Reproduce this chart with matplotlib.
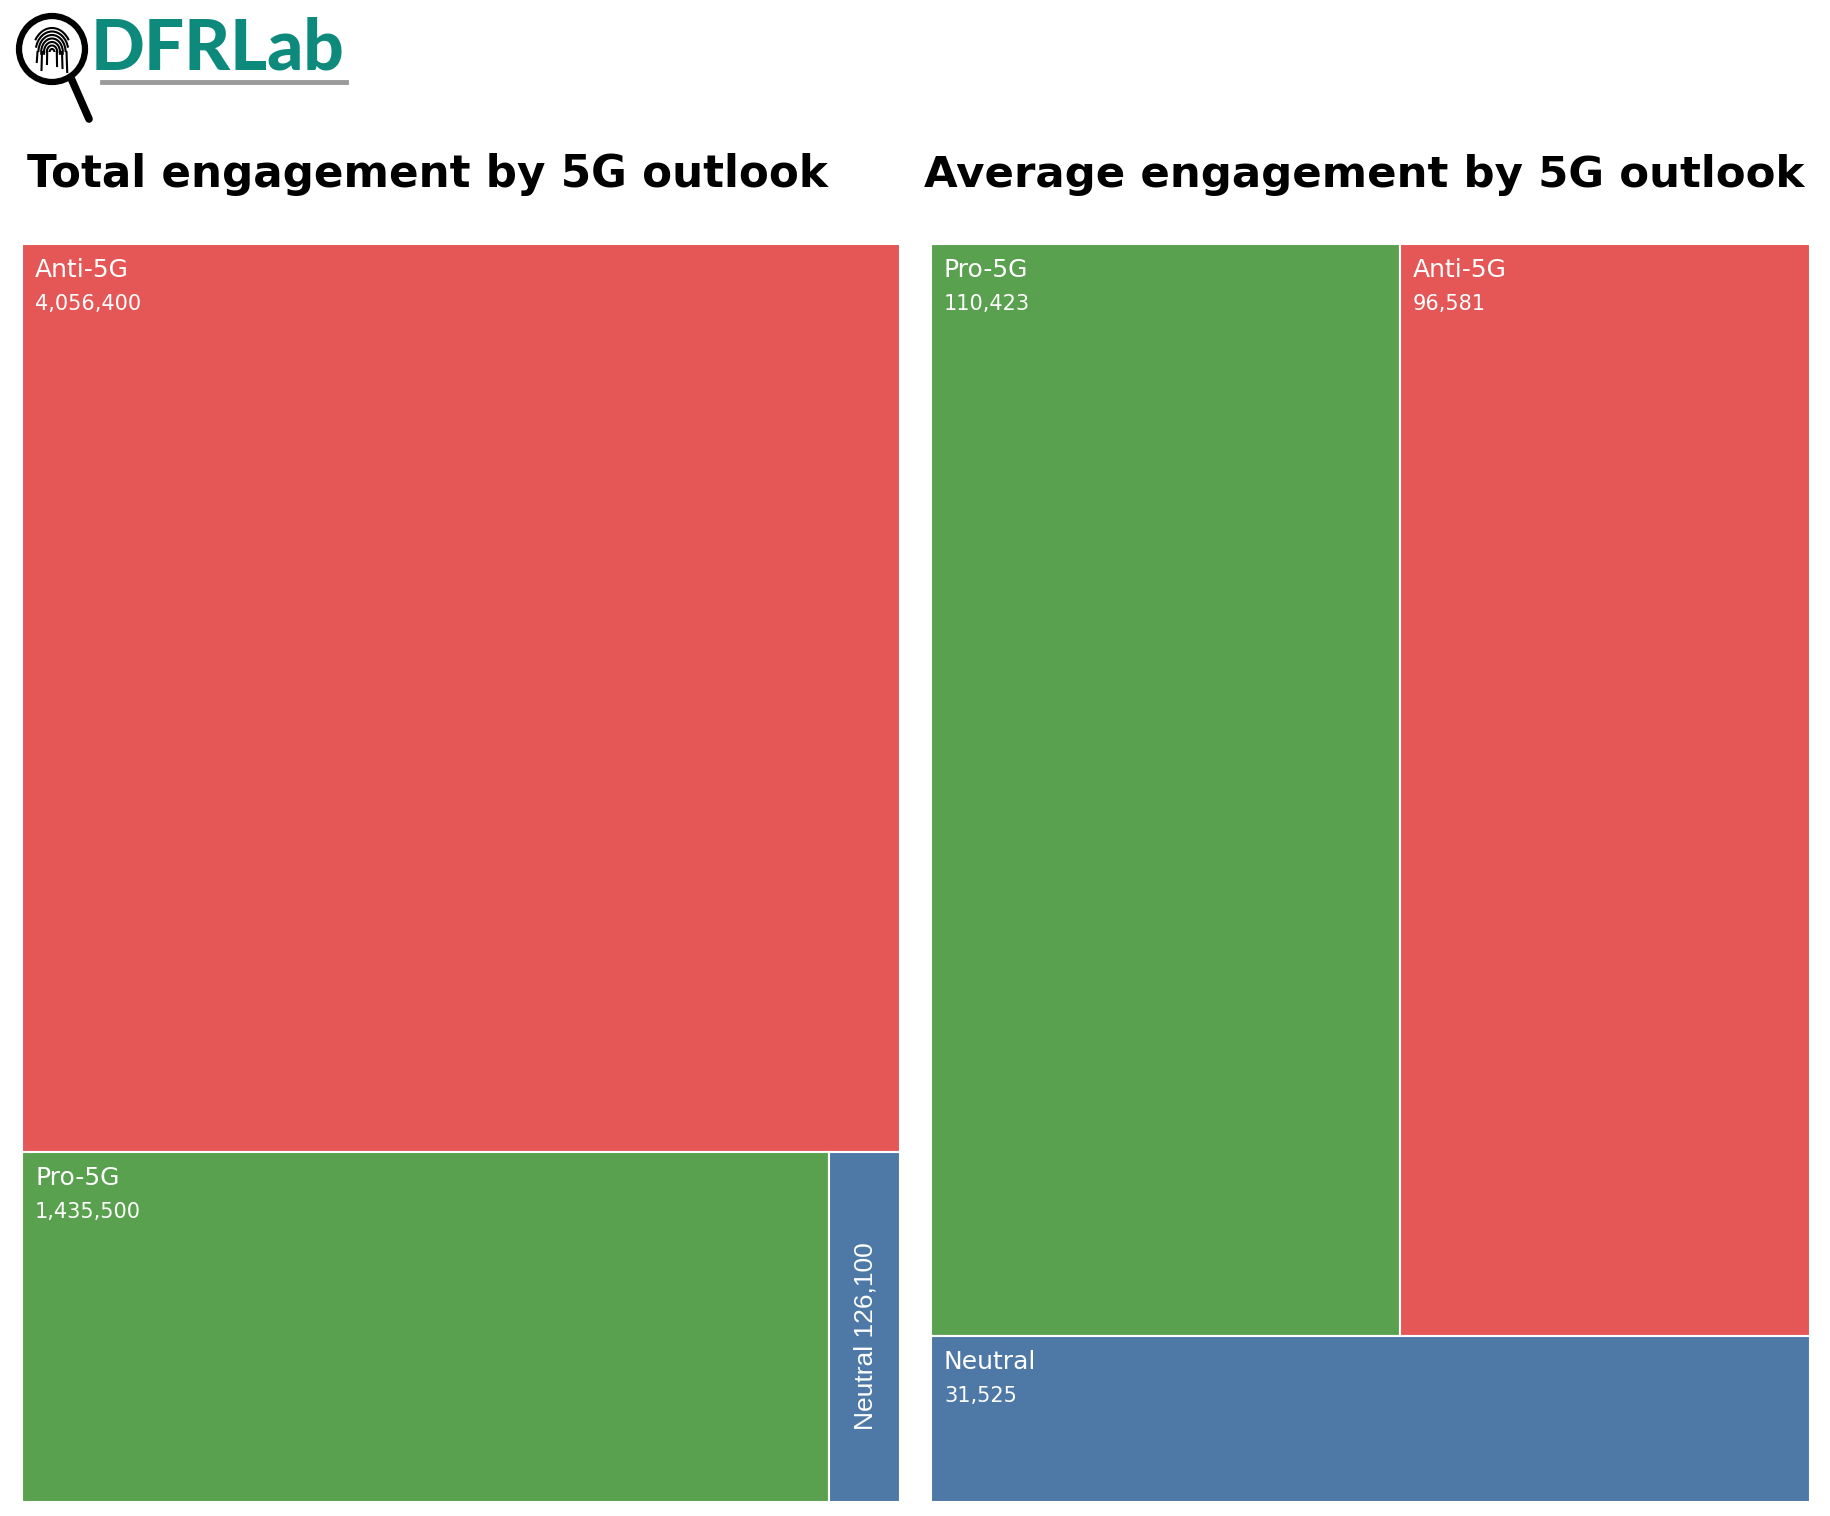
import matplotlib
matplotlib.use("Agg")
import matplotlib.pyplot as plt
from matplotlib.patches import Rectangle, Circle, Arc

# ==================== Data ====================
categories = ["Anti-5G", "Pro-5G", "Neutral"]
total_engagement = [4056400, 1435500, 126100]
average_engagement = [96581, 110423, 31525]

colors = {"Anti-5G": "#E45756", "Pro-5G": "#59A14F", "Neutral": "#4E79A7"}

W, H = 1830, 1516
fig = plt.figure(figsize=(W / 100, H / 100), dpi=100)
ax = fig.add_axes([0, 0, 1, 1])
ax.set_xlim(0, W)
ax.set_ylim(H, 0)
ax.axis("off")

LABEL_FONT = ["DejaVu Sans"]


def draw_treemap(values, rows, x0, y0, x1, y1):
    """Rows are stacked top to bottom, cells in a row split left to right."""
    total = sum(values)
    y = y0
    for row in rows:
        row_sum = sum(values[i] for i in row)
        h = (y1 - y0) * row_sum / total
        x = x0
        for i in row:
            w = (x1 - x0) * values[i] / row_sum
            name = categories[i]
            ax.add_patch(Rectangle((x, y), w, h, facecolor=colors[name],
                                   edgecolor="white", linewidth=1.5))
            if w > 150:
                ax.text(x + 13, y + 33, name, color="white", fontsize=18,
                        family=LABEL_FONT, va="baseline", ha="left")
                ax.text(x + 13, y + 66, f"{values[i]:,}", color="white",
                        fontsize=15, family=LABEL_FONT, va="baseline", ha="left")
            else:
                ax.text(x + w / 2 + 1, y + h - 72, f"{name} {values[i]:,}",
                        color="white", fontsize=19, family="Liberation Sans",
                        rotation=90, ha="center", va="bottom")
            x += w
        y += h


# ==================== Panels ====================
draw_treemap(total_engagement, [[0], [1, 2]], 22, 244, 900, 1502)
draw_treemap(average_engagement, [[1, 0], [2]], 931, 244, 1810, 1502)

ax.text(27, 187, "Total engagement by 5G outlook", fontsize=31.4,
        fontweight="bold", family="DejaVu Sans", va="baseline", ha="left")
ax.text(924, 187, "Average engagement by 5G outlook", fontsize=31.3,
        fontweight="bold", family="DejaVu Sans", va="baseline", ha="left")

# ==================== Logo ====================
ax.add_patch(Circle((52, 49), 33, facecolor="none", edgecolor="black", linewidth=4.5))
ax.plot([71, 89], [78, 119], color="black", linewidth=5.5, solid_capstyle="round")
for r, t1, t2 in [(3, 180, 360), (6.5, 170, 370), (10, 160, 380), (13.5, 165, 375),
                  (17, 180, 360), (20.5, 195, 345), (24, 215, 325)]:
    ax.add_patch(Arc((52, 52), 1.6 * r, 2.0 * r, theta1=t1, theta2=t2,
                     color="black", linewidth=1.5))
for dx, y_end in [(-4.8, 64), (4.8, 66), (-10, 70), (10, 68), (-14.5, 62), (14.5, 72)]:
    ax.plot([52 + dx, 52 + dx * 1.05], [52, y_end], color="black", linewidth=1.5)
ax.text(91, 70, "DFRLab", fontsize=51, fontweight="black", color="#0E8A7D",
        family=["Lato", "DejaVu Sans"], va="baseline", ha="left")
ax.plot([102, 346], [82, 82], color="#9A9A9A", linewidth=3.5)

fig.savefig("out.png", dpi=100, facecolor="white")
